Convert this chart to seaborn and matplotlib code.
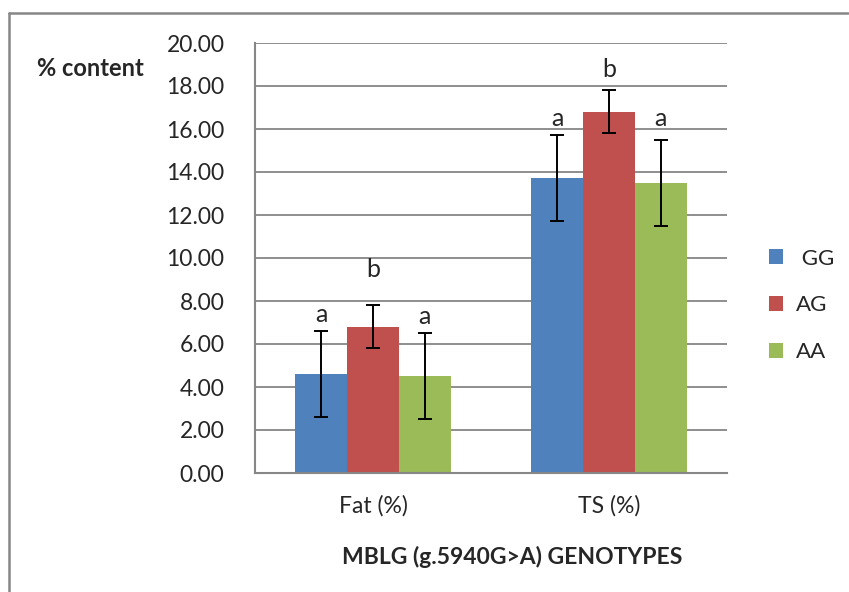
import matplotlib
matplotlib.use("Agg")
import matplotlib.pyplot as plt
from matplotlib.lines import Line2D
import seaborn as sns
import pandas as pd

traits = ["Fat (%)", "TS (%)"]
genotypes = ["GG", "AG", "AA"]
fat_means = [4.6, 6.8, 4.5]
fat_err = [2.0, 1.0, 2.0]
ts_means = [13.7, 16.8, 13.5]
ts_err = [2.0, 1.0, 2.0]
fat_letters = ["a", "b", "a"]
ts_letters = ["a", "b", "a"]
# heights where the significance letters sit
fat_letter_y = [7.35, 9.45, 7.3]
ts_letter_y = [16.5, 18.75, 16.5]
colors = ["#4F81BD", "#C0504D", "#9BBB59"]

df = pd.DataFrame({
    "trait": [traits[0]] * 3 + [traits[1]] * 3,
    "genotype": genotypes * 2,
    "value": fat_means + ts_means,
    "err": fat_err + ts_err,
    "letter": fat_letters + ts_letters,
    "letter_y": fat_letter_y + ts_letter_y,
})

sns.set_style("white")
plt.rcParams["font.family"] = ["Lato", "DejaVu Sans"]
grid_c = "#868686"

fig = plt.figure(figsize=(8.49, 5.92), dpi=100)
ax = fig.add_axes([255 / 849, 1 - 473 / 592, (727 - 255) / 849, (473 - 43) / 592])

sns.barplot(data=df, x="trait", y="value", hue="genotype", hue_order=genotypes,
            palette=colors, errorbar=None, width=0.66, saturation=1,
            linewidth=0, ax=ax)

# error bars and significance letters at bar centres
for bars, g in zip(ax.containers, genotypes):
    sub = df[df["genotype"] == g]
    for bar, (_, row) in zip(bars, sub.iterrows()):
        xc = bar.get_x() + bar.get_width() / 2
        ax.errorbar(xc, row["value"], yerr=row["err"], color="black",
                    capsize=4.8, capthick=1.4, elinewidth=1.4, zorder=4)
        ax.text(xc, row["letter_y"], row["letter"],
                ha="center", va="center", fontsize=18)

ax.set_xlim(-0.5, 1.5)
ax.set_ylim(0, 20)
ax.set_yticks(range(0, 21, 2))
ax.set_yticklabels([f"{v:.2f}" for v in range(0, 21, 2)], fontsize=16.5)
ax.set_xticks([-0.5, 0.5, 1.5], minor=False)
ax.set_xticklabels(["", "", ""])
ax.set_xticks([0, 1], minor=True)
ax.set_xticklabels(traits, minor=True, fontsize=16.5)
ax.tick_params(axis="x", which="minor", length=0, pad=16)
ax.tick_params(axis="x", which="major", length=8, width=1.5, color=grid_c, direction="out")
ax.tick_params(axis="y", length=11, width=1.5, color=grid_c, direction="out", pad=11)
ax.yaxis.grid(True, color=grid_c, linewidth=1.3)
ax.set_axisbelow(True)
for s in ["top", "right"]:
    ax.spines[s].set_visible(False)
for s in ["left", "bottom"]:
    ax.spines[s].set_color(grid_c)
    ax.spines[s].set_linewidth(1.5)

ax.set_xlabel("")
ax.set_ylabel("")
fig.text(90 / 849, 1 - 68 / 592, "% content", ha="center", va="center",
         fontsize=17, fontweight="bold")
fig.text(512 / 849, 1 - 557 / 592, "MBLG (g.5940G>A) GENOTYPES", ha="center",
         va="center", fontsize=16.5, fontweight="bold")

handles, labels = ax.get_legend_handles_labels()
ax.legend(handles, [" GG", "AG", "AA"], title=None, loc="center left",
          bbox_to_anchor=(1.042, 0.39), frameon=False, borderaxespad=0.6,
          fontsize=16, handlelength=0.65, handleheight=0.65, labelspacing=1.2,
          handletextpad=0.55)

# outer chart frame (top and left edges visible)
fig.add_artist(Line2D([9 / 849, 9 / 849], [0, 1 - 13 / 592], color=grid_c,
                      linewidth=1.8, transform=fig.transFigure))
fig.add_artist(Line2D([9 / 849, 848 / 849], [1 - 13 / 592, 1 - 13 / 592], color=grid_c,
                      linewidth=1.8, transform=fig.transFigure))

fig.savefig("out.png", dpi=100)
